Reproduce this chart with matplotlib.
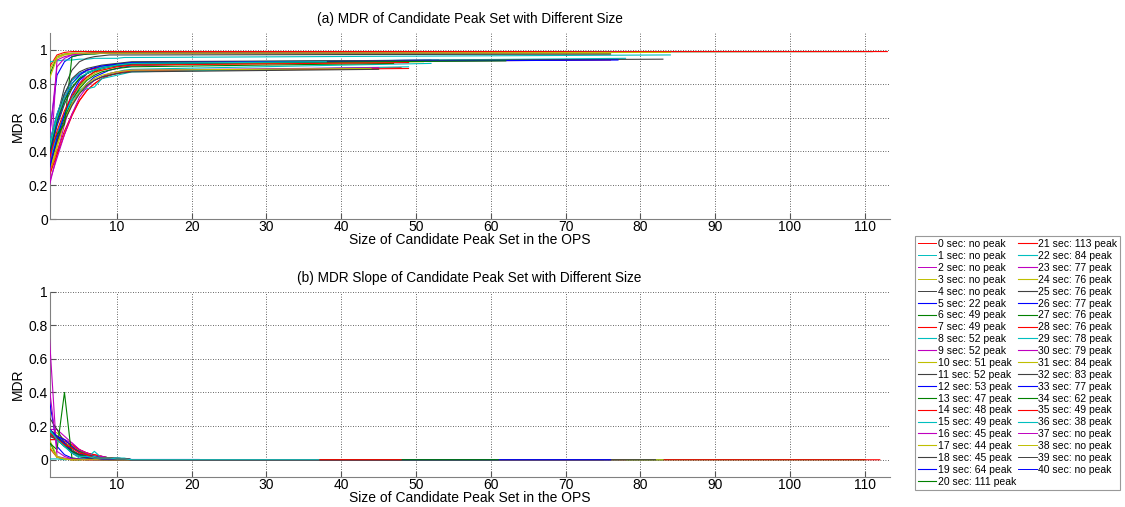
import matplotlib
matplotlib.use("Agg")
import matplotlib.pyplot as plt
import numpy as np

plt.rcParams['font.family'] = ['Liberation Sans', 'DejaVu Sans']

# legend labels: seconds and number of peaks (None = no peak)
seconds = list(range(41))
peaks = [None, None, None, None, None, 22, 49, 49, 52, 52,
         51, 52, 53, 47, 48, 49, 45, 44, 45, 64,
         111, 113, 84, 77, 76, 76, 77, 76, 76, 78,
         79, 84, 83, 77, 62, 49, 38, None, None, None, None]

# MDR at sizes 1..12 for every series that has peaks
mdr_head = {
    5:  [0.30, 0.45, 0.58, 0.68, 0.75, 0.80, 0.84, 0.86, 0.88, 0.89, 0.90, 0.905],
    6:  [0.35, 0.50, 0.62, 0.72, 0.79, 0.84, 0.87, 0.89, 0.90, 0.91, 0.915, 0.92],
    7:  [0.28, 0.40, 0.52, 0.62, 0.70, 0.76, 0.80, 0.83, 0.85, 0.86, 0.87, 0.875],
    8:  [0.32, 0.48, 0.62, 0.72, 0.76, 0.79, 0.82, 0.84, 0.86, 0.87, 0.88, 0.885],
    9:  [0.20, 0.38, 0.56, 0.70, 0.80, 0.86, 0.88, 0.89, 0.90, 0.905, 0.91, 0.915],
    10: [0.25, 0.42, 0.58, 0.70, 0.78, 0.83, 0.86, 0.88, 0.89, 0.90, 0.905, 0.91],
    11: [0.38, 0.55, 0.68, 0.77, 0.83, 0.86, 0.88, 0.89, 0.90, 0.905, 0.91, 0.915],
    12: [0.45, 0.62, 0.74, 0.82, 0.86, 0.88, 0.89, 0.90, 0.905, 0.91, 0.915, 0.92],
    13: [0.30, 0.46, 0.60, 0.70, 0.77, 0.82, 0.85, 0.87, 0.88, 0.89, 0.895, 0.90],
    14: [0.26, 0.38, 0.50, 0.61, 0.70, 0.76, 0.80, 0.83, 0.85, 0.86, 0.87, 0.875],
    15: [0.34, 0.50, 0.62, 0.70, 0.75, 0.77, 0.78, 0.83, 0.84, 0.85, 0.86, 0.87],
    16: [0.22, 0.36, 0.50, 0.62, 0.72, 0.78, 0.82, 0.84, 0.86, 0.87, 0.875, 0.88],
    17: [0.28, 0.44, 0.58, 0.68, 0.75, 0.80, 0.83, 0.85, 0.86, 0.87, 0.875, 0.88],
    18: [0.32, 0.46, 0.58, 0.67, 0.74, 0.79, 0.82, 0.84, 0.85, 0.86, 0.865, 0.87],
    19: [0.50, 0.85, 0.93, 0.96, 0.97, 0.975, 0.98, 0.98, 0.98, 0.98, 0.98, 0.98],
    20: [0.85, 0.96, 0.975, 0.98, 0.98, 0.98, 0.985, 0.985, 0.985, 0.985, 0.985, 0.985],
    21: [0.90, 0.97, 0.985, 0.99, 0.99, 0.99, 0.99, 0.99, 0.99, 0.99, 0.99, 0.99],
    22: [0.93, 0.935, 0.94, 0.94, 0.945, 0.945, 0.95, 0.95, 0.95, 0.95, 0.955, 0.955],
    23: [0.22, 0.94, 0.96, 0.97, 0.975, 0.98, 0.98, 0.98, 0.98, 0.98, 0.98, 0.98],
    24: [0.83, 0.95, 0.97, 0.975, 0.975, 0.98, 0.98, 0.98, 0.98, 0.98, 0.98, 0.98],
    25: [0.35, 0.60, 0.78, 0.88, 0.93, 0.95, 0.96, 0.965, 0.97, 0.97, 0.97, 0.97],
    26: [0.30, 0.48, 0.62, 0.74, 0.82, 0.86, 0.88, 0.90, 0.91, 0.915, 0.92, 0.925],
    27: [0.40, 0.50, 0.56, 0.96, 0.97, 0.975, 0.975, 0.98, 0.98, 0.98, 0.98, 0.98],
    28: [0.40, 0.58, 0.72, 0.80, 0.85, 0.88, 0.89, 0.90, 0.91, 0.915, 0.92, 0.925],
    29: [0.45, 0.62, 0.74, 0.82, 0.86, 0.87, 0.88, 0.90, 0.905, 0.91, 0.92, 0.925],
    30: [0.48, 0.90, 0.95, 0.97, 0.975, 0.98, 0.98, 0.98, 0.98, 0.98, 0.98, 0.98],
    31: [0.88, 0.96, 0.975, 0.98, 0.98, 0.98, 0.98, 0.98, 0.98, 0.98, 0.98, 0.98],
    32: [0.42, 0.60, 0.74, 0.83, 0.87, 0.89, 0.90, 0.91, 0.915, 0.92, 0.925, 0.93],
    33: [0.38, 0.56, 0.70, 0.80, 0.85, 0.88, 0.895, 0.905, 0.91, 0.915, 0.92, 0.925],
    34: [0.40, 0.58, 0.70, 0.78, 0.83, 0.86, 0.88, 0.89, 0.90, 0.91, 0.915, 0.92],
    35: [0.36, 0.52, 0.64, 0.73, 0.80, 0.84, 0.87, 0.88, 0.89, 0.90, 0.905, 0.91],
    36: [0.42, 0.60, 0.72, 0.80, 0.84, 0.86, 0.88, 0.89, 0.90, 0.91, 0.915, 0.92],
}
# MDR at the last size (= number of peaks)
mdr_end = {
    5: 0.92, 6: 0.935, 7: 0.89, 8: 0.92, 9: 0.94, 10: 0.93, 11: 0.935,
    12: 0.94, 13: 0.92, 14: 0.895, 15: 0.90, 16: 0.895, 17: 0.89, 18: 0.885,
    19: 0.985, 20: 0.99, 21: 0.99, 22: 0.97, 23: 0.985, 24: 0.98, 25: 0.975,
    26: 0.945, 27: 0.985, 28: 0.94, 29: 0.95, 30: 0.985, 31: 0.985,
    32: 0.945, 33: 0.94, 34: 0.935, 35: 0.925, 36: 0.93,
}

matlab_colors = [(0, 0, 1), (0, 0.5, 0), (1, 0, 0), (0, 0.75, 0.75),
                 (0.75, 0, 0.75), (0.75, 0.75, 0), (0.25, 0.25, 0.25)]

fig = plt.figure(figsize=(11.25, 5.07), dpi=100)
ax1 = fig.add_axes([0.044, 0.568, 0.7467, 0.367])
ax2 = fig.add_axes([0.044, 0.060, 0.7467, 0.365])

handles = []
for s, n in zip(seconds, peaks):
    col = matlab_colors[(s - 5) % 7]
    label = '%d sec: %s' % (s, 'no peak' if n is None else '%d peak' % n)
    if n is None:
        h, = ax1.plot([], [], color=col, lw=0.7, label=label)
        ax2.plot([], [], color=col, lw=0.7)
        handles.append(h)
        continue
    head = mdr_head[s]
    k = len(head)
    x1 = list(range(1, k + 1)) + [n]
    y1 = head + [mdr_end[s]]
    h, = ax1.plot(x1, y1, color=col, lw=0.8, label=label, zorder=3)
    handles.append(h)
    # slope: difference between consecutive sizes
    d = list(np.diff(head))
    tail = (mdr_end[s] - head[-1]) / (n - k)
    x2 = list(range(1, k)) + [k, n - 1]
    y2 = d + [tail, tail]
    ax2.plot(x2, y2, color=col, lw=0.8, zorder=3)

titles = ['(a) MDR of Candidate Peak Set with Different Size',
          '(b) MDR Slope of Candidate Peak Set with Different Size']
for ax, ttl, ylim in [(ax1, titles[0], (0, 1.1)), (ax2, titles[1], (-0.1, 1))]:
    ax.set_xlim(1, 113.3)
    ax.set_ylim(*ylim)
    ax.set_xticks(range(10, 111, 10))
    ax.set_yticks([0, 0.2, 0.4, 0.6, 0.8, 1])
    ax.set_yticklabels(['0', '0.2', '0.4', '0.6', '0.8', '1'])
    ax.grid(True, linestyle=(0, (1, 2)), color='black', lw=0.6, alpha=0.8)
    ax.tick_params(direction='in', length=4, labelsize=10, pad=1,
                   top=False, right=False, color='#555555')
    for sp in ['top', 'right']:
        ax.spines[sp].set_visible(False)
    for sp in ['left', 'bottom']:
        ax.spines[sp].set_color('#808080')
    ax.set_title(ttl, fontsize=9.8, pad=7)
    ax.set_xlabel('Size of Candidate Peak Set in the OPS', fontsize=10, labelpad=-1)
    ax.set_ylabel('MDR', fontsize=10, labelpad=3)

leg = fig.legend(handles=handles, loc='upper left', bbox_to_anchor=(0.813, 0.5345),
                 ncol=2, fontsize=7.5, frameon=True, fancybox=False,
                 handlelength=1.8, handletextpad=0.1, columnspacing=0.25,
                 labelspacing=0.18, borderpad=0.3, borderaxespad=0)
leg.get_frame().set_edgecolor('#808080')
leg.get_frame().set_linewidth(0.8)

fig.savefig('out.png', dpi=100)
